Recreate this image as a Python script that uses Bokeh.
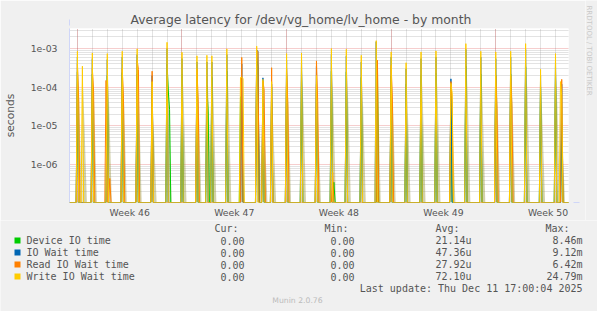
import math
import numpy as np
from bokeh.plotting import figure
from bokeh.layouts import column, row
from bokeh.models import Range1d, FixedTicker, Arrow, NormalHead
from bokeh.core.properties import value
from bokeh.embed import file_html
from bokeh.resources import INLINE

# ---------------- data ----------------
TITLE = "Average latency for /dev/vg_home/lv_home - by month"
WEEK_LABELS = ["Week 46", "Week 47", "Week 48", "Week 49", "Week 50"]
SERIES = ["Device IO time", "IO Wait time", "Read IO Wait time", "Write IO Wait time"]
CUR = ["0.00", "0.00", "0.00", "0.00"]
MIN = ["0.00", "0.00", "0.00", "0.00"]
AVG = ["21.14u", "47.36u", "27.92u", "72.10u"]
MAX = ["8.46m", "9.12m", "6.42m", "24.79m"]
HEADERS = ["Cur:", "Min:", "Avg:", "Max:"]
LAST_UPDATE = "Last update: Thu Dec 11 17:00:04 2025"
FOOTER = "Munin 2.0.76"
SIDE = "RRDTOOL / TOBI OETIKER"
Y_LABEL = "seconds"

# time in days since the start of week 46; samples are 2-hour averages, zero elsewhere
DEVICE_T = [0, 1, 2, 3, 4, 5, 6, 6.083, 6.167, 7, 8, 8.667, 8.75, 9, 10, 10.917, 11,
            12, 12.083, 12.417, 13, 14, 15, 16, 17, 17.167, 18, 19, 20.083, 21, 22, 23,
            24, 25, 26, 27, 28, 29, 30, 31, 32, 32.417]
DEVICE_V = [2.5e-4, 2.2e-4, 2.0e-4, 2.4e-4, 2.2e-4, 8e-5, 4e-4, 8e-5, 2.7e-5, 2.2e-4,
            1.8e-4, 1.1e-4, 2.3e-5, 1.8e-4, 2.6e-4, 5.7e-5, 2.2e-5, 6e-4, 3.4e-4, 4e-5,
            1e-4, 2e-4, 2.2e-4, 1.2e-4, 2.6e-4, 3.5e-7, 2.5e-4, 1.8e-4, 4e-4, 2.0e-4,
            1.2e-4, 2.1e-4, 2.3e-4, 6e-5, 3.5e-4, 2.2e-4, 2.0e-4, 2.2e-4, 3.4e-4, 1e-4,
            2e-4, 1.2e-5]

IOWAIT_T = [0, 1, 2, 3, 4, 5, 6, 7, 8, 8.667, 9, 10, 11, 12, 12.083, 12.417, 13, 14, 15,
            16, 17, 18, 19, 20, 21, 22, 23, 24, 25, 26, 27, 28, 29, 30, 31, 32, 32.417]
IOWAIT_V = [6.0e-4, 5.5e-4, 5.2e-4, 6.0e-4, 7.0e-4, 2.0e-4, 1.0e-3, 5.5e-4, 4.5e-4,
            4.5e-4, 4.5e-4, 7.0e-4, 4.0e-4, 9.0e-4, 8.7e-4, 1.75e-4, 1.2e-4, 5.0e-4,
            5.5e-4, 3.5e-4, 7.0e-4, 6.5e-4, 4.5e-4, 1.5e-3, 6.0e-4, 3.0e-4, 5.5e-4,
            6.0e-4, 1.65e-4, 9.5e-4, 6.0e-4, 5.5e-4, 6.0e-4, 9.5e-4, 2.0e-4, 5.0e-4, 1.2e-4]

READ_T = [0, 0.083, 1, 1.083, 1.917, 2.167, 3, 3.083, 4, 4.083, 5, 8, 8.083, 11, 12,
          12.083, 12.417, 12.5, 13, 14, 14.083, 16, 16.083, 17.083, 20.083, 21, 21.083,
          25, 25.083, 28, 28.083, 29, 29.083, 32.417]
READ_V = [4e-4, 5.1e-5, 3e-4, 7.6e-5, 1.5e-4, 4.4e-7, 3e-4, 5.1e-5, 5e-4, 2.9e-4, 2.6e-4,
          3e-4, 4.7e-5, 5.9e-4, 9e-4, 8.2e-4, 1.45e-4, 8.5e-5, 3.2e-4, 3e-4, 3.6e-5,
          4.8e-4, 4.2e-5, 6.3e-7, 5e-4, 3.7e-4, 4.7e-5, 1.4e-4, 4.2e-5, 2e-4, 2.8e-5,
          2e-4, 3.3e-5, 1.6e-4]

WRITE_T = [0, 0.333, 1, 2, 3, 4, 5, 6, 7, 8, 8.667, 9, 10, 10.917, 11, 11.083, 12, 12.417,
           13, 14, 15, 16, 17, 18, 19, 20, 21, 22, 23, 24, 25, 25.083, 26, 27, 28, 29, 30,
           31, 32, 32.333, 32.417]
WRITE_V = [8.5e-4, 3.5e-4, 7.7e-4, 7.4e-4, 8.5e-4, 9.8e-4, 1.4e-4, 1.45e-3, 8.0e-4, 6.5e-4,
           6.7e-4, 6.5e-4, 9.8e-4, 1.8e-4, 1.8e-4, 1.7e-4, 1.15e-3, 1.6e-4, 1.4e-4, 7.4e-4,
           7.7e-4, 2.0e-4, 1.0e-3, 9.6e-4, 6.7e-4, 1.6e-3, 8.2e-4, 4.3e-4, 8.2e-4, 8.7e-4,
           1.26e-4, 7e-5, 1.34e-3, 8.5e-4, 8.2e-4, 8.5e-4, 1.34e-3, 2.9e-4, 7.4e-4, 1.4e-4, 6e-5]

COLORS = ["#00CC00", "#0066B3", "#FF8000", "#FFCC00"]

# ---------------- layout constants ----------------
W = 597
W1 = 585                                   # width of chart figure (side strip right of it)
FL, FR, FT, FB = 66, 568, 28, 203          # frame edges (page px)
H1 = 220                                   # height of chart figure
H2 = 311 - H1                              # height of legend strip
X_START, X_END = -0.53, 32.87
Y_START, Y_END = 1.05e-7, 3.3e-3
BIN = 1.0 / 12.0
TXT = "#555555"
BG = "#F0F0F0"

p = figure(width=W1, height=H1, output_backend="svg", toolbar_location=None,
           x_range=Range1d(X_START, X_END), y_range=Range1d(Y_START, Y_END),
           y_axis_type="log",
           min_border_left=FL, min_border_right=W1 - FR,
           min_border_top=FT, min_border_bottom=H1 - FB)
p.background_fill_color = "white"
p.border_fill_color = BG
p.outline_line_color = None

p.title.text = TITLE
p.title.align = "left"
p.title.offset = 61
p.title.standoff = 3
p.title.text_font = "DejaVu Sans"
p.title.text_font_size = "12.4px"
p.title.text_font_style = "normal"
p.title.text_color = TXT

# sample grid (2 h steps)
idx = np.arange(-7, 403)
tgrid = idx * BIN

def series_y(ts, vs):
    vals = np.zeros(len(idx))
    for t, v in zip(ts, vs):
        vals[int(round(t * 12)) + 7] = v
    return np.where(vals > 0, vals, Y_START)

# olive shading beside each write burst
wx, wy = [], []
prev_t = None
for t, v in zip(WRITE_T, WRITE_V):
    if v >= 1e-4 and (prev_t is None or t - prev_t > 0.1):
        wx.append([t, t, t + 0.12, t + 0.3])
        wy.append([Y_START, v * 0.7, v * 0.05, Y_START])
    prev_t = t
p.patches(wx, wy, fill_color="#9c9640", fill_alpha=0.45, line_color=None)

for ts, vs, c in zip([DEVICE_T, IOWAIT_T, READ_T, WRITE_T],
                     [DEVICE_V, IOWAIT_V, READ_V, WRITE_V], COLORS):
    p.line(tgrid, series_y(ts, vs), line_color=c, line_width=1)

# axes
decades = [1e-6, 1e-5, 1e-4, 1e-3]
minors = [m * 10.0 ** e for e in range(-7, -2) for m in range(2, 10)]
p.yaxis.ticker = FixedTicker(ticks=decades, minor_ticks=minors)
p.yaxis.major_label_overrides = {d: "1e-%02d" % round(-math.log10(d)) for d in decades}
p.yaxis.axis_line_color = "#CFD6F8"
p.yaxis.major_tick_in = 0
p.yaxis.major_tick_out = 0
p.yaxis.minor_tick_in = 0
p.yaxis.minor_tick_out = 0
p.yaxis.major_label_text_font = "DejaVu Sans"
p.yaxis.major_label_text_font_size = "9.3px"
p.yaxis.major_label_text_color = TXT
p.yaxis.major_label_standoff = 12
p.yaxis.axis_label = Y_LABEL
p.yaxis.axis_label_text_font = "DejaVu Sans"
p.yaxis.axis_label_text_font_size = "10.7px"
p.yaxis.axis_label_text_font_style = "normal"
p.yaxis.axis_label_text_color = TXT
p.yaxis.axis_label_standoff = 11

week_starts = [0, 7, 14, 21, 28]
week_mid = [w + 3.5 for w in week_starts]
p.xaxis.ticker = FixedTicker(ticks=week_mid)
p.xaxis.major_label_overrides = {m: lab for m, lab in zip(week_mid, WEEK_LABELS)}
p.xaxis.axis_line_color = None
p.xaxis.major_tick_in = 0
p.xaxis.major_tick_out = 0
p.xaxis.minor_tick_in = 0
p.xaxis.minor_tick_out = 0
p.xaxis.major_label_text_font = "DejaVu Sans"
p.xaxis.major_label_text_font_size = "9.3px"
p.xaxis.major_label_text_color = TXT
p.xaxis.major_label_standoff = 4

p.xgrid.ticker = FixedTicker(ticks=week_starts, minor_ticks=list(range(0, 33)))
for g in (p.xgrid, p.ygrid):
    g.grid_line_color = "#de4f4f"
    g.grid_line_alpha = 0.55
    g.grid_line_dash = "1 1"
    g.minor_grid_line_color = "#8f8f8f"
    g.minor_grid_line_alpha = 0.5
    g.minor_grid_line_dash = "1 1"

# arrows on axes
fw, fh = FR - FL, FB - FT
for xs, ys, xe, ye in [(0, fh - 2, 0, fh + 8), (fw - 2, 0, fw + 8, 0)]:
    p.add_layout(Arrow(x_start=xs, y_start=ys, x_end=xe, y_end=ye,
                       start_units="screen", end_units="screen",
                       line_color="#CFD6F8", line_width=1,
                       end=NormalHead(size=6, fill_color="#CFD6F8", line_color="#CFD6F8")))

# ---------------- side strip with the vertical credit (page px coords) ----------------
s = figure(width=W - W1, height=H1, output_backend="svg", toolbar_location=None,
           x_range=Range1d(W1, W), y_range=Range1d(H1, 0),
           x_axis_location=None, y_axis_location=None, min_border=0)
s.background_fill_color = BG
s.border_fill_color = BG
s.outline_line_color = None
s.grid.visible = False
s.text(x=[588.5], y=[5], text=[SIDE], angle=-math.pi / 2,
       text_font=value("DejaVu Sans"), text_font_size="7px", text_color="#c8c8c8",
       text_align="left", text_baseline="middle")

# ---------------- legend strip (coordinates = page pixels) ----------------
q = figure(width=W, height=H2, output_backend="svg", toolbar_location=None,
           x_range=Range1d(0, W), y_range=Range1d(311, H1),
           x_axis_location=None, y_axis_location=None, min_border=0)
q.background_fill_color = BG
q.border_fill_color = BG
q.outline_line_color = None
q.grid.visible = False
for fig in (p, s, q):
    if "frame_align" in fig.properties():
        fig.frame_align = False

MONO = value("DejaVu Sans Mono")
rows = [240 + 12 * i for i in range(len(SERIES))]
q.scatter(x=[17] * len(SERIES), y=rows, marker="square", size=6,
          fill_color=COLORS, line_color=None)
q.text(x=[26] * len(SERIES), y=rows, text=SERIES, text_font=MONO,
       text_font_size="10px", text_color=TXT, text_align="left", text_baseline="middle")
col_right = [244, 354, 471, 582]
head_right = [238, 348, 459, 569]
q.text(x=head_right, y=[228] * 4, text=HEADERS, text_font=MONO,
       text_font_size="10px", text_color=TXT, text_align="right", text_baseline="middle")
for xr, vals in zip(col_right, [CUR, MIN, AVG, MAX]):
    q.text(x=[xr] * len(vals), y=rows, text=vals, text_font=MONO,
           text_font_size="10px", text_color=TXT, text_align="right",
           text_baseline="middle")
q.text(x=[582], y=[288], text=[LAST_UPDATE], text_font=MONO, text_font_size="10px",
       text_color=TXT, text_align="right", text_baseline="middle")
q.text(x=[297], y=[300], text=[FOOTER], text_font=value("DejaVu Sans"),
       text_font_size="7.7px", text_color="#bbbbbb", text_align="center",
       text_baseline="middle")

layout = column(row(p, s, spacing=0), q, spacing=0)
open("out.html", "w").write(file_html(layout, INLINE))
